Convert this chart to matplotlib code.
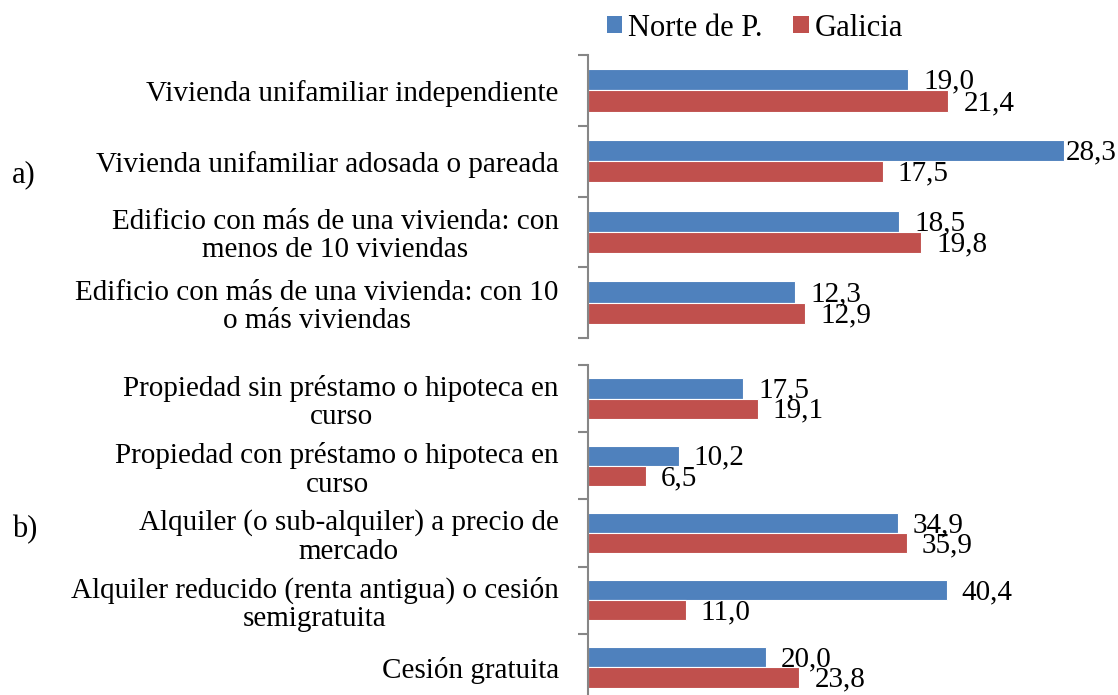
import matplotlib
matplotlib.use("Agg")
import matplotlib.pyplot as plt
from matplotlib.patches import Patch
import numpy as np

plt.rcParams['font.family'] = ['Liberation Serif', 'DejaVu Serif']

# panel a) tipo de vivienda
cats_a = ["Vivienda unifamiliar independiente",
          "Vivienda unifamiliar adosada o pareada",
          "Edificio con más de una vivienda: con\nmenos de 10 viviendas",
          "Edificio con más de una vivienda: con 10\no más viviendas"]
norte_a = [19.0, 28.3, 18.5, 12.3]
galicia_a = [21.4, 17.5, 19.8, 12.9]

# panel b) régimen de tenencia
cats_b = ["Propiedad sin préstamo o hipoteca en\ncurso",
          "Propiedad con préstamo o hipoteca en\ncurso",
          "Alquiler (o sub-alquiler) a precio de\nmercado",
          "Alquiler reducido (renta antigua) o cesión\nsemigratuita",
          "Cesión gratuita"]
norte_b = [17.5, 10.2, 34.9, 40.4, 20.0]
galicia_b = [19.1, 6.5, 35.9, 11.0, 23.8]

series_names = ["Norte de P.", "Galicia"]
BLUE = "#4F81BD"
RED = "#C0504D"
AXIS_GREY = "#868686"
FS = 21

W, H = 1118, 695
fig = plt.figure(figsize=(W / 100, H / 100), dpi=100)


def px_box(left, top, right, bottom):
    return [left / W, 1 - bottom / H, (right - left) / W, (bottom - top) / H]


def fmt(v):
    return ("%.1f" % v).replace(".", ",")


def draw_panel(ax, cats, s1, s2, xmax):
    y = np.arange(len(cats))
    h = 0.30
    b1 = ax.barh(y - h / 2, s1, height=h, color=BLUE, edgecolor="white", linewidth=0.8)
    b2 = ax.barh(y + h / 2, s2, height=h, color=RED, edgecolor="white", linewidth=0.8)
    ax.set_xlim(0, xmax)
    ax.set_ylim(len(cats) - 0.5, -0.5)
    ax.set_yticks(y)
    ax.set_yticklabels(cats, fontsize=FS)
    for lab in ax.get_yticklabels():
        lab.set_multialignment("center")
        lab.set_linespacing(1.12)
    ax.set_yticks(np.arange(len(cats) + 1) - 0.5, minor=True)
    ax.tick_params(axis="y", which="major", length=0, pad=21)
    ax.tick_params(axis="y", which="minor", length=7, width=1.5, color=AXIS_GREY)
    ax.set_xticks([])
    for side in ["top", "right", "bottom"]:
        ax.spines[side].set_visible(False)
    ax.spines["left"].set_color(AXIS_GREY)
    ax.spines["left"].set_linewidth(1.5)
    texts = []
    for bars, vals in [(b1, s1), (b2, s2)]:
        for rect, v in zip(bars, vals):
            t = ax.annotate(fmt(v), xy=(v, rect.get_y() + rect.get_height() / 2),
                            xytext=(11, -6.5), textcoords="offset points",
                            va="baseline", ha="left", fontsize=FS,
                            annotation_clip=False)
            texts.append(t)
    return texts


ax_a = fig.add_axes(px_box(588, 55, 1093, 338))
ax_b = fig.add_axes(px_box(588, 365, 1093, 701))
labels = draw_panel(ax_a, cats_a, norte_a, galicia_a, 30)
labels += draw_panel(ax_b, cats_b, norte_b, galicia_b, 56.9)

# keep labels inside the figure, like the original chart area does
fig.canvas.draw()
r = fig.canvas.get_renderer()
for t in labels:
    bb = t.get_window_extent(r)
    if bb.x1 > W - 1:
        t.set_position((11 - (bb.x1 - W + 1) * 72 / 100, -6.5))

fig.text(12 / W, 1 - 175 / H, "a)", fontsize=FS + 1, va="center", ha="left")
fig.text(12 / W, 1 - 530 / H, "b)", fontsize=FS + 1, va="center", ha="left")

handles = [Patch(facecolor=BLUE), Patch(facecolor=RED)]
fig.legend(handles, series_names, loc="center", bbox_to_anchor=(755 / W, 1 - 28 / H),
           ncol=2, frameon=False, fontsize=FS + 1, handlelength=0.5, handleheight=0.5,
           handletextpad=0.2, columnspacing=1.0)

fig.savefig("out.png", dpi=100)
